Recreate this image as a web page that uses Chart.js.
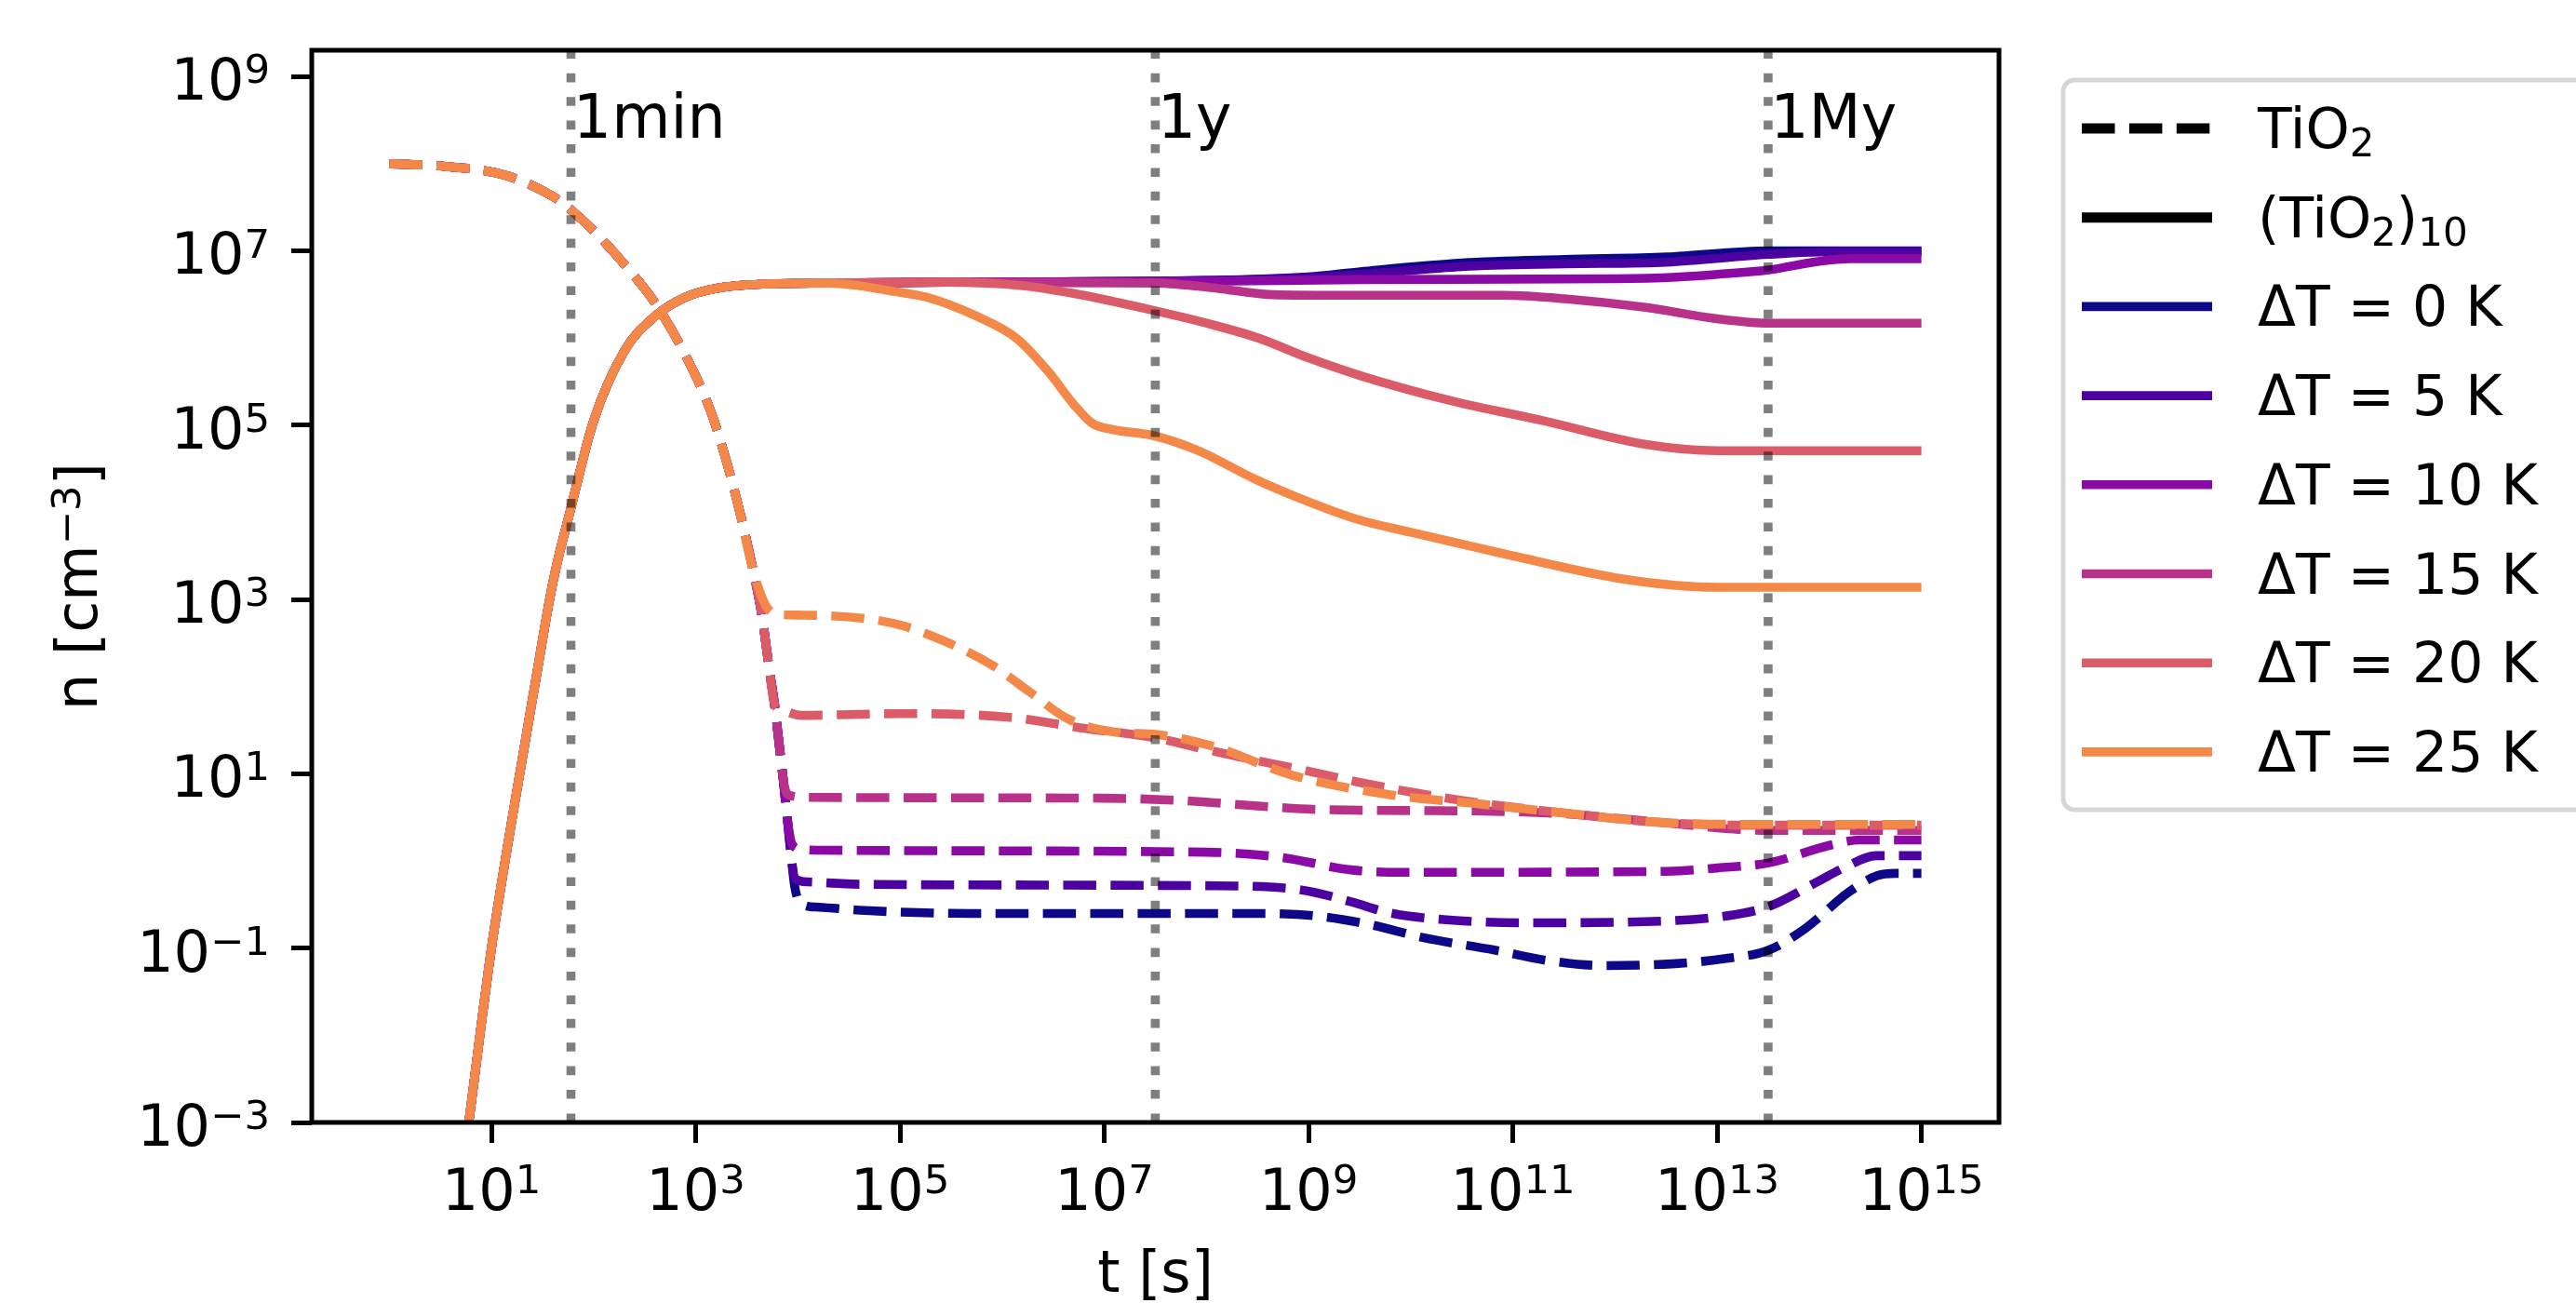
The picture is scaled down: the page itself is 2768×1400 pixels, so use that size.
<!DOCTYPE html>
<html>
<head>
<meta charset="utf-8">
<script src="https://cdn.jsdelivr.net/npm/chart.js@4.4.0/dist/chart.umd.min.js"></script>
<style>
  html, body { margin: 0; padding: 0; background: #fff; }
</style>
</head>
<body>
<canvas id="myChart" width="2768" height="1400"></canvas>
<script>
// runs with different temperature offsets, plasma colours
const deltaT = [0, 5, 10, 15, 20, 25];
const lineColors = ['#0d0887', '#4c02a1', '#8b0aa5', '#b83289', '#db5c68', '#f48849'];

// axis ticks (^ = superscript)
const xTickValues = [1e1, 1e3, 1e5, 1e7, 1e9, 1e11, 1e13, 1e15];
const xTickLabels = ['10^1', '10^3', '10^5', '10^7', '10^9', '10^11', '10^13', '10^15'];
const yTickValues = [1e-3, 1e-1, 1e1, 1e3, 1e5, 1e7, 1e9];
const yTickLabels = ['10^−3', '10^−1', '10^1', '10^3', '10^5', '10^7', '10^9'];
const xTitle = 't [s]';
const yTitle = 'n [cm^−3]';

// reference times: 1 min, 1 yr, 1 Myr (in s)
const markerTimes = [60, 3.156e7, 3.156e13];
const markerLabels = ['1min', '1y', '1My'];

// TiO2 (dashed) - decay shared by every run
const tMonoFall = [1, 3.5, 13.5, 39, 60, 100, 224, 380, 740, 1450, 2500, 3700];
const nMonoFall = [1e8, 9.3e7, 7.4e7, 4.27e7, 2.95e7, 1.7e7, 6.0e6, 2.75e6, 7.4e5, 1.29e5, 1.45e4, 2.0e3];

// TiO2 (dashed) - rest of each run
const tMono0 = [4470, 5250, 5900, 6600, 7240, 7940, 8700, 9330, 1.05e4, 1.6e4, 4.6e4, 5e5, 3.2e8, 1.17e9, 4e9, 1.32e10, 6.6e10, 2.2e11, 8e11, 3.6e12, 1.23e13, 3.2e13, 7.4e13, 1.95e14, 3.7e14, 5.6e14, 1e15];
const nMono0 = [631, 158, 63.1, 20.4, 7.94, 2.82, 1.0, 0.50, 0.33, 0.295, 0.27, 0.25, 0.25, 0.234, 0.186, 0.132, 0.095, 0.072, 0.063, 0.066, 0.076, 0.095, 0.17, 0.44, 0.68, 0.72, 0.72];
const tMono5 = [4470, 5250, 5900, 6600, 7240, 7940, 8700, 9330, 1.26e4, 4e4, 1e8, 8e8, 2.6e9, 5.9e9, 1.95e10, 1.45e11, 1.6e12, 1.23e13, 3.2e13, 8.9e13, 1.8e14, 3.6e14, 1e15];
const nMono5 = [631, 158, 63.1, 20.4, 7.94, 2.82, 1.0, 0.63, 0.575, 0.54, 0.52, 0.47, 0.34, 0.257, 0.214, 0.195, 0.20, 0.234, 0.30, 0.55, 0.85, 1.15, 1.15];
const tMono10 = [4470, 5250, 5900, 6600, 7240, 7940, 8900, 1.12e4, 1.58e4, 1e8, 5.4e8, 2.6e9, 8e9, 3.2e12, 1e13, 3.2e13, 1.26e14, 2.5e14, 1e15];
const nMono10 = [631, 158, 63.1, 20.4, 7.94, 2.82, 1.51, 1.35, 1.33, 1.26, 1.10, 0.79, 0.74, 0.76, 0.83, 0.95, 1.51, 1.74, 1.74];
const tMono15 = [4470, 5250, 5900, 6600, 7400, 8500, 1.26e4, 1e7, 6.3e7, 3.2e8, 1.26e9, 6.3e10, 3.2e11, 2e12, 3.2e13, 1e15];
const nMono15 = [631, 158, 63.1, 20.4, 7.08, 5.62, 5.37, 5.25, 4.9, 4.27, 3.89, 3.72, 3.47, 2.88, 2.24, 2.24];
const tMono20 = [4470, 5250, 5900, 7400, 1.07e4, 1e5, 1.12e6, 5.6e6, 3.2e7, 1.07e8, 3.2e8, 1e9, 3.2e9, 1e10, 5e10, 3.2e11, 2.2e12, 1.8e13, 1e15];
const nMono20 = [631, 158, 63.1, 52.5, 46.8, 49, 44.7, 33.9, 25.7, 18.6, 14.1, 10.7, 7.94, 6.17, 4.57, 3.55, 2.82, 2.57, 2.57];
const tMono25 = [4070, 4900, 6300, 1.17e4, 4.6e4, 1.05e5, 3.0e5, 7.9e5, 1.86e6, 4.4e6, 1.26e7, 3.3e7, 1.12e8, 7.1e8, 6.3e9, 5e10, 3.2e11, 2.2e12, 1.8e13, 1e15];
const nMono25 = [1410, 832, 676, 661, 603, 501, 316, 178, 87, 42.7, 30.2, 28.2, 20.9, 9.55, 5.75, 4.47, 3.55, 2.82, 2.63, 2.63];

// (TiO2)10 (solid) - growth shared by every run
const tClusterRise = [1, 6, 10, 16, 26, 40, 60, 100, 200, 400, 800, 1600, 5000, 2e4];
const nClusterRise = [1e-10, 1e-3, 0.1, 3.16, 89, 1585, 1.12e4, 1.12e5, 7.1e5, 1.78e6, 2.95e6, 3.72e6, 4.17e6, 4.27e6];

// (TiO2)10 (solid) - rest of each run
const tCluster0 = [3e5, 1e8, 1e9, 3.2e9, 3.2e10, 3.2e11, 3.2e12, 3.2e13, 1e15];
const nCluster0 = [4.37e6, 4.57e6, 5.01e6, 5.75e6, 7.24e6, 7.94e6, 8.5e6, 1.0e7, 1.0e7];
const tCluster5 = [3e5, 3.2e8, 3.2e9, 3.2e10, 3.2e11, 3.2e12, 3.2e13, 1.6e14, 1e15];
const nCluster5 = [4.37e6, 4.68e6, 5.37e6, 6.6e6, 7.08e6, 7.41e6, 9.1e6, 9.8e6, 9.8e6];
const tCluster10 = [3e5, 1e8, 3.2e9, 1e12, 4e12, 1e13, 3.2e13, 1e14, 2e14, 1e15];
const nCluster10 = [4.37e6, 4.47e6, 4.68e6, 4.79e6, 5.0e6, 5.37e6, 6.03e6, 7.59e6, 8.13e6, 8.13e6];
const tCluster15 = [3e5, 3.2e7, 1.26e8, 4e8, 1.6e9, 8e10, 3.2e11, 2e12, 1e13, 3.2e13, 1e15];
const nCluster15 = [4.37e6, 4.27e6, 3.72e6, 3.16e6, 3.09e6, 3.09e6, 2.82e6, 2.24e6, 1.66e6, 1.48e6, 1.48e6];
const tCluster20 = [3e5, 1.6e6, 5e6, 3.2e7, 1e8, 3.2e8, 1e9, 3.2e9, 2.5e10, 2e11, 2e12, 1e13, 1e15];
const nCluster20 = [4.37e6, 3.98e6, 3.24e6, 2.04e6, 1.48e6, 1e6, 5.9e5, 3.7e5, 1.9e5, 1.12e5, 6.0e4, 5.1e4, 5.1e4];
const tCluster25 = [4e4, 8e4, 1.8e5, 5.6e5, 1.4e6, 2.8e6, 5e6, 7.6e6, 1.2e7, 3e7, 8e7, 3e8, 1e9, 3e9, 1e10, 1e11, 1e12, 4e12, 1e13, 1e15];
const nCluster25 = [3.98e6, 3.47e6, 2.95e6, 1.78e6, 9.8e5, 4.17e5, 1.74e5, 1.05e5, 8.9e4, 7.6e4, 5.2e4, 2.4e4, 1.32e4, 8.3e3, 5.9e3, 3.16e3, 1.78e3, 1.45e3, 1.38e3, 1.38e3];

const monoT = [tMono0, tMono5, tMono10, tMono15, tMono20, tMono25];
const monoN = [nMono0, nMono5, nMono10, nMono15, nMono20, nMono25];
const clusterT = [tCluster0, tCluster5, tCluster10, tCluster15, tCluster20, tCluster25];
const clusterN = [nCluster0, nCluster5, nCluster10, nCluster15, nCluster20, nCluster25];

const xMin = 0.174, xMax = 5.75e15;
const yMin = 1e-3, yMax = 2.0e9;

const FONT = '"DejaVu Sans"';
const LW = 9.6;
const DASH = [35.5, 15.4];
const DOTS = [9.6, 15.8];

function pts(tA, nA) {
  return tA.map((t, i) => ({ x: t, y: nA[i] }));
}

// text with ^sup / _sub parts, like matplotlib mathtext
function drawMath(ctx, str, x, y, size, align) {
  const parts = str.split(/([_^][0-9−]+)/).filter(function (p) { return p.length; });
  const items = parts.map(function (p) {
    const kind = p[0] === '^' ? 1 : (p[0] === '_' ? -1 : 0);
    const txt = kind ? p.slice(1) : p;
    const sz = kind ? size * 0.7 : size;
    ctx.font = sz + 'px ' + FONT;
    return { txt: txt, sz: sz, kind: kind, w: ctx.measureText(txt).width };
  });
  const total = items.reduce(function (s, it) { return s + it.w; }, 0);
  let cx = align === 'right' ? x - total : (align === 'center' ? x - total / 2 : x);
  ctx.textAlign = 'left';
  ctx.textBaseline = 'alphabetic';
  items.forEach(function (it) {
    ctx.font = it.sz + 'px ' + FONT;
    const dy = it.kind === 1 ? -0.29 * size : (it.kind === -1 ? 0.15 * size : 0);
    ctx.fillText(it.txt, cx, y + dy);
    cx += it.w;
  });
}

// matplotlib order: dashed + solid per run, then the vertical markers on top
var datasets = [];
for (let i = 0; i < deltaT.length; i++) {
  datasets.push({
    label: 'TiO2 dT=' + deltaT[i],
    data: pts(tMonoFall.concat(monoT[i]), nMonoFall.concat(monoN[i])),
    borderColor: lineColors[i],
    borderWidth: LW,
    borderDash: DASH
  });
  datasets.push({
    label: '(TiO2)10 dT=' + deltaT[i],
    data: pts(tClusterRise.concat(clusterT[i]), nClusterRise.concat(clusterN[i])),
    borderColor: lineColors[i],
    borderWidth: LW
  });
}
markerTimes.forEach(function (t) {
  datasets.push({
    label: 'marker',
    data: [{ x: t, y: yMin }, { x: t, y: yMax }],
    borderColor: 'rgba(0,0,0,0.5)',
    borderWidth: LW,
    borderDash: DOTS,
    cubicInterpolationMode: 'default',
    tension: 0
  });
});
datasets.forEach(function (d, k) {
  d.order = datasets.length - k;
  d.pointRadius = 0;
  d.fill = false;
  d.clip = 0;
  d.borderJoinStyle = 'round';
  if (!d.cubicInterpolationMode) d.cubicInterpolationMode = 'monotone';
});

// frame, tick labels, axis titles, marker texts and legend
const decorations = {
  id: 'decorations',
  afterDatasetsDraw(chart) {
    const ctx = chart.ctx;
    const a = chart.chartArea;
    const xs = chart.scales.x, ys = chart.scales.y;
    ctx.save();
    ctx.fillStyle = '#000';
    ctx.font = '65px ' + FONT;
    ctx.textAlign = 'left';
    ctx.textBaseline = 'alphabetic';
    markerTimes.forEach(function (t, i) {
      ctx.fillText(markerLabels[i], xs.getPixelForValue(t * 1.05), ys.getPixelForValue(2e8));
    });
    ctx.lineWidth = 5;
    ctx.strokeStyle = '#000';
    ctx.setLineDash([]);
    ctx.strokeRect(a.left, a.top, a.right - a.left, a.bottom - a.top);

    // tick labels
    xTickValues.forEach(function (v, i) {
      drawMath(ctx, xTickLabels[i], xs.getPixelForValue(v), a.bottom + 94, 62, 'center');
    });
    yTickValues.forEach(function (v, i) {
      drawMath(ctx, yTickLabels[i], a.left - 45, ys.getPixelForValue(v) + 25, 62, 'right');
    });
    // axis titles
    drawMath(ctx, xTitle, (a.left + a.right) / 2, 1388, 62, 'center');
    ctx.save();
    ctx.translate(104, (a.top + a.bottom) / 2);
    ctx.rotate(-Math.PI / 2);
    drawMath(ctx, yTitle, 0, 0, 62, 'center');
    ctx.restore();
    ctx.restore();
  },
  afterDraw(chart) {
    const ctx = chart.ctx;
    const a = chart.chartArea;
    const items = [
      { text: 'TiO_2', color: '#000', dash: DASH, w: 11 },
      { text: '(TiO_2)_10', color: '#000', dash: [], w: 11 }
    ].concat(deltaT.map(function (d, i) {
      return { text: 'ΔT = ' + d + ' K', color: lineColors[i], dash: [], w: LW };
    }));
    const bx = a.right + 69, by = 86, bw = 640, bh = 784, r = 12;
    ctx.save();
    ctx.beginPath();
    ctx.moveTo(bx + r, by);
    ctx.lineTo(bx + bw - r, by);
    ctx.arcTo(bx + bw, by, bx + bw, by + r, r);
    ctx.lineTo(bx + bw, by + bh - r);
    ctx.arcTo(bx + bw, by + bh, bx + bw - r, by + bh, r);
    ctx.lineTo(bx + r, by + bh);
    ctx.arcTo(bx, by + bh, bx, by + bh - r, r);
    ctx.lineTo(bx, by + r);
    ctx.arcTo(bx, by, bx + r, by, r);
    ctx.closePath();
    ctx.fillStyle = 'rgba(255,255,255,0.8)';
    ctx.fill();
    ctx.lineWidth = 4.8;
    ctx.strokeStyle = '#d6d6d6';
    ctx.stroke();
    items.forEach(function (it, k) {
      const y = 138 + k * 95.7;
      ctx.beginPath();
      ctx.setLineDash(it.dash);
      ctx.lineWidth = it.w;
      ctx.strokeStyle = it.color;
      ctx.moveTo(bx + 20, y);
      ctx.lineTo(bx + 160, y);
      ctx.stroke();
      ctx.setLineDash([]);
      ctx.fillStyle = '#000';
      drawMath(ctx, it.text, bx + 209, y + 21, 60, 'left');
    });
    ctx.restore();
  }
};

Chart.defaults.font.family = 'DejaVu Sans';
Chart.defaults.color = '#000';

var ctx = document.getElementById('myChart').getContext('2d');
var myChart = new Chart(ctx, {
  type: 'line',
  data: { datasets: datasets },
  options: {
    responsive: false,
    animation: false,
    devicePixelRatio: 1,
    layout: { padding: { left: 0, top: 54, right: 620, bottom: 0 } },
    plugins: {
      legend: { display: false },
      tooltip: { enabled: false }
    },
    scales: {
      x: {
        type: 'logarithmic',
        min: xMin,
        max: xMax,
        afterBuildTicks: function (s) { s.ticks = xTickValues.map(function (v) { return { value: v }; }); },
        afterFit: function (s) { s.height = 194; },
        ticks: { display: false, autoSkip: false },
        grid: { drawOnChartArea: false, drawTicks: true, tickLength: 22, tickWidth: 5, tickColor: '#000' },
        border: { display: false }
      },
      y: {
        type: 'logarithmic',
        min: yMin,
        max: yMax,
        afterBuildTicks: function (s) { s.ticks = yTickValues.map(function (v) { return { value: v }; }); },
        afterFit: function (s) { s.width = 335; },
        ticks: { display: false, autoSkip: false },
        grid: { drawOnChartArea: false, drawTicks: true, tickLength: 22, tickWidth: 5, tickColor: '#000' },
        border: { display: false }
      }
    }
  },
  plugins: [decorations]
});
</script>
</body>
</html>
